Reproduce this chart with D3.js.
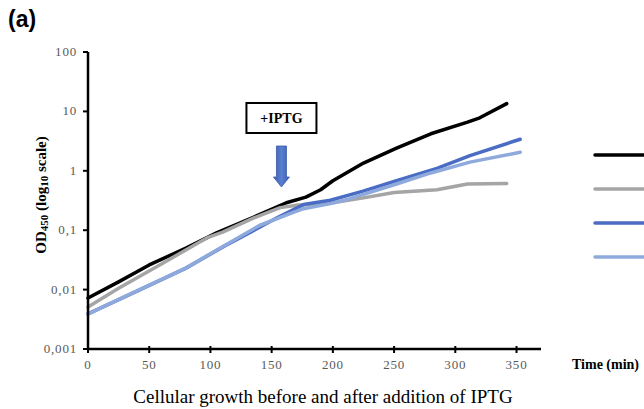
<!DOCTYPE html>
<html>
<head>
<meta charset="utf-8">
<script src="https://cdn.jsdelivr.net/npm/d3@7"></script>
<style>
  body { margin: 0; background: #fff; }
  svg { display: block; }
</style>
</head>
<body>
<svg id="chart" width="644" height="409"></svg>
<script>
// series data (time in min, OD450)
var blackTime = [0, 25, 50, 80, 105, 135, 162, 178, 190, 200, 225, 252, 280, 310, 320, 342];
var blackOD   = [0.0072, 0.0135, 0.026, 0.05, 0.09, 0.165, 0.29, 0.36, 0.48, 0.68, 1.35, 2.4, 4.2, 6.6, 7.8, 13.5];

var grayTime = [0, 25, 60, 97, 110, 135, 157, 172, 185, 200, 225, 250, 285, 310, 342];
var grayOD   = [0.0051, 0.0105, 0.027, 0.074, 0.093, 0.16, 0.24, 0.265, 0.27, 0.29, 0.35, 0.43, 0.48, 0.6, 0.61];

var blueTime = [0, 40, 80, 112, 127, 154, 176, 198, 224, 252, 285, 312, 353];
var blueOD   = [0.0039, 0.0094, 0.023, 0.055, 0.08, 0.16, 0.27, 0.32, 0.45, 0.68, 1.1, 1.8, 3.4];

var lightTime = [0, 40, 80, 112, 140, 165, 176, 198, 214, 252, 280, 312, 353];
var lightOD   = [0.0039, 0.0095, 0.023, 0.056, 0.12, 0.19, 0.23, 0.28, 0.34, 0.6, 0.92, 1.4, 2.05];

var xTicks = [0, 50, 100, 150, 200, 250, 300, 350];
var yTicks = [0.001, 0.01, 0.1, 1, 10, 100];
var yTickLabels = ["0,001", "0,01", "0,1", "1", "10", "100"];
var iptgTime = 158;

var series = [
    {t: blackTime, v: blackOD, color: "#000000"},
    {t: grayTime, v: grayOD, color: "#a5a5a5"},
    {t: blueTime, v: blueOD, color: "#4a6cc4"},
    {t: lightTime, v: lightOD, color: "#8eaadc"}
];

var svg = d3.select("#chart");
var serif = "'Liberation Serif', 'Times New Roman', serif";

var x = d3.scaleLinear().domain([0, 370]).range([88, 541]);
var y = d3.scaleLog().domain([0.001, 100]).range([349, 52]);

// lines
var line = d3.line()
    .x(function (d) { return x(d[0]); })
    .y(function (d) { return y(d[1]); });

series.forEach(function (s) {
    var pts = s.t.map(function (t, i) { return [t, s.v[i]]; });
    svg.append("path")
        .attr("d", line(pts))
        .attr("fill", "none")
        .attr("stroke", s.color)
        .attr("stroke-width", 3.5)
        .attr("stroke-linejoin", "round")
        .attr("stroke-linecap", "round");
});

// axes
var xAxis = svg.append("g").attr("transform", "translate(0," + y(0.001) + ")");
xAxis.append("line")
    .attr("x1", x(0)).attr("x2", x(370))
    .attr("stroke", "#000").attr("stroke-width", 2.5);
xAxis.selectAll(".xt").data(xTicks).enter().append("line")
    .attr("x1", function (d) { return x(d); })
    .attr("x2", function (d) { return x(d); })
    .attr("y1", -3).attr("y2", 4)
    .attr("stroke", "#000").attr("stroke-width", 2);
xAxis.selectAll(".xl").data(xTicks).enter().append("text")
    .attr("x", function (d) { return x(d); })
    .attr("y", 20)
    .attr("text-anchor", "middle")
    .attr("font-family", serif)
    .attr("font-size", 13)
    .attr("letter-spacing", 0.8)
    .attr("fill", "#595959")
    .text(function (d) { return d; });

var yAxis = svg.append("g");
yAxis.append("line")
    .attr("x1", x(0)).attr("x2", x(0))
    .attr("y1", y(100)).attr("y2", y(0.001))
    .attr("stroke", "#000").attr("stroke-width", 2.5);
yAxis.selectAll(".yt").data(yTicks).enter().append("line")
    .attr("x1", x(0) - 5).attr("x2", x(0))
    .attr("y1", function (d) { return y(d); })
    .attr("y2", function (d) { return y(d); })
    .attr("stroke", "#000").attr("stroke-width", 2);
yAxis.selectAll(".yl").data(yTicks).enter().append("text")
    .attr("x", x(0) - 11)
    .attr("y", function (d) { return y(d) + 4; })
    .attr("text-anchor", "end")
    .attr("font-family", serif)
    .attr("font-size", 13)
    .attr("letter-spacing", 0.8)
    .attr("fill", "#595959")
    .text(function (d, i) { return yTickLabels[i]; });

// y title
var yTitle = svg.append("text")
    .attr("transform", "translate(46,195) rotate(-90)")
    .attr("text-anchor", "middle")
    .attr("font-family", serif)
    .attr("font-weight", "bold")
    .attr("font-size", 15);
yTitle.append("tspan").text("OD");
yTitle.append("tspan").attr("font-size", 11).attr("dy", 2).text("450");
yTitle.append("tspan").attr("dy", -2).text(" (log");
yTitle.append("tspan").attr("font-size", 11).attr("dy", 2).text("10");
yTitle.append("tspan").attr("dy", -2).text(" scale)");

// x title + caption
svg.append("text")
    .attr("x", 572).attr("y", 369)
    .attr("font-family", serif)
    .attr("font-weight", "bold")
    .attr("font-size", 14)
    .text("Time (min)");

svg.append("text")
    .attr("x", 323).attr("y", 403)
    .attr("text-anchor", "middle")
    .attr("font-family", serif)
    .attr("font-size", 19)
    .text("Cellular growth before and after addition of  IPTG");

svg.append("text")
    .attr("x", 8).attr("y", 27)
    .attr("font-family", "'Liberation Sans', Arial, sans-serif")
    .attr("font-weight", "bold")
    .attr("font-size", 23)
    .text("(a)");

// IPTG annotation
var ax = x(iptgTime);
svg.append("rect")
    .attr("x", ax - 35).attr("y", 103)
    .attr("width", 70).attr("height", 30)
    .attr("fill", "#fff")
    .attr("stroke", "#000").attr("stroke-width", 2);
svg.append("text")
    .attr("x", ax).attr("y", 123)
    .attr("text-anchor", "middle")
    .attr("font-family", serif)
    .attr("font-weight", "bold")
    .attr("font-size", 14)
    .text("+IPTG");

var grad = svg.append("defs").append("linearGradient")
    .attr("id", "arrowGrad")
    .attr("x1", "0%").attr("x2", "100%").attr("y1", "0%").attr("y2", "0%");
grad.append("stop").attr("offset", "0%").attr("stop-color", "#3c5fb0");
grad.append("stop").attr("offset", "50%").attr("stop-color", "#5a7fd0");
grad.append("stop").attr("offset", "100%").attr("stop-color", "#3c5fb0");

svg.append("path")
    .attr("d", "M" + (ax - 5) + ",146 L" + (ax + 5) + ",146 L" + (ax + 5) + ",177 L" + (ax + 8) + ",177 L" + ax + ",187 L" + (ax - 8) + ",177 L" + (ax - 5) + ",177 Z")
    .attr("fill", "url(#arrowGrad)")
    .attr("stroke", "#3a5aa8").attr("stroke-width", 0.8);

// legend swatches (labels fall outside the frame)
var legendY = [155, 189, 223, 257];
svg.selectAll(".leg").data(series).enter().append("line")
    .attr("x1", 595).attr("x2", 660)
    .attr("y1", function (d, i) { return legendY[i]; })
    .attr("y2", function (d, i) { return legendY[i]; })
    .attr("stroke", function (d) { return d.color; })
    .attr("stroke-width", 3.5)
    .attr("stroke-linecap", "round");
</script>
</body>
</html>
